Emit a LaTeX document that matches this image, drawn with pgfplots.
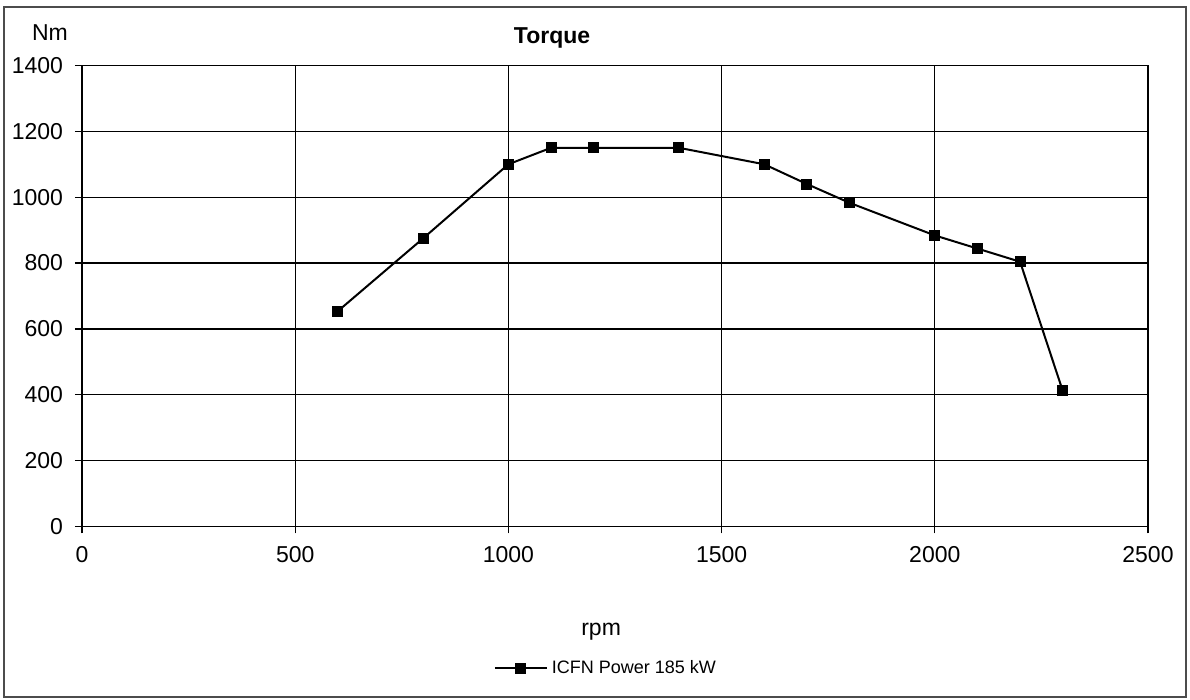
\documentclass[border=0pt]{standalone}
\usepackage{fontspec}
\setmainfont{Liberation Sans}
\usepackage{pgfplots}
\pgfplotsset{compat=1.18}
\begin{document}
\begin{tikzpicture}
\path[use as bounding box] (0,0) rectangle (595pt,350pt);
\draw[line width=0.6pt, black!70] (2pt,1.5pt) rectangle (593pt,346.5pt);
\begin{axis}[
  scale only axis,
  width=533pt, height=230.5pt,
  at={(41pt,86.75pt)}, anchor=south west,
  xmin=0, xmax=2500, ymin=0, ymax=1400,
  xtick={0,500,...,2500}, ytick={0,200,...,1400},
  grid=major,
  major grid style={black, line width=0.6pt},
  axis line style={black, line width=0.6pt},
  tick style={black, line width=0.6pt},
  tick align=outside, major tick length=3.5pt,
  xtick pos=left, ytick pos=left,
  /pgf/number format/1000 sep={},
  /pgf/number format/assume math mode=true,
  ticklabel style={font=\fontsize{11.5}{13.5}\selectfont},
  yticklabel style={xshift=-2.5pt},
  xticklabel style={yshift=-3pt},
  legend style={at={(0.4925,-0.307)}, anchor=center, draw=none, font=\fontsize{9}{11}\selectfont, inner sep=0pt},
  legend image code/.code={\draw[mark repeat=2,mark phase=2] plot coordinates {(0pt,0pt) (13pt,0pt) (26pt,0pt)};},
  clip=false,
]
\addplot[black, line width=1pt, mark=square*, mark size=2.25pt, mark options={solid}] coordinates {
  (600,654) (800,875) (1000,1100) (1100,1150) (1200,1150) (1400,1150)
  (1600,1100) (1700,1040) (1800,983) (2000,884) (2100,844) (2200,804) (2300,412)
};
\addlegendentry{ICFN Power 185 kW}
\node[font=\fontsize{11.5}{13.5}\selectfont] at (axis description cs:-0.030,1.0705) {Nm};
\node[font=\bfseries\fontsize{11.5}{13.5}\selectfont] at (axis description cs:0.441,1.0597) {Torque};
\node[font=\fontsize{11.5}{13.5}\selectfont] at (axis description cs:0.487,-0.229) {rpm};
\end{axis}
\end{tikzpicture}
\end{document}
